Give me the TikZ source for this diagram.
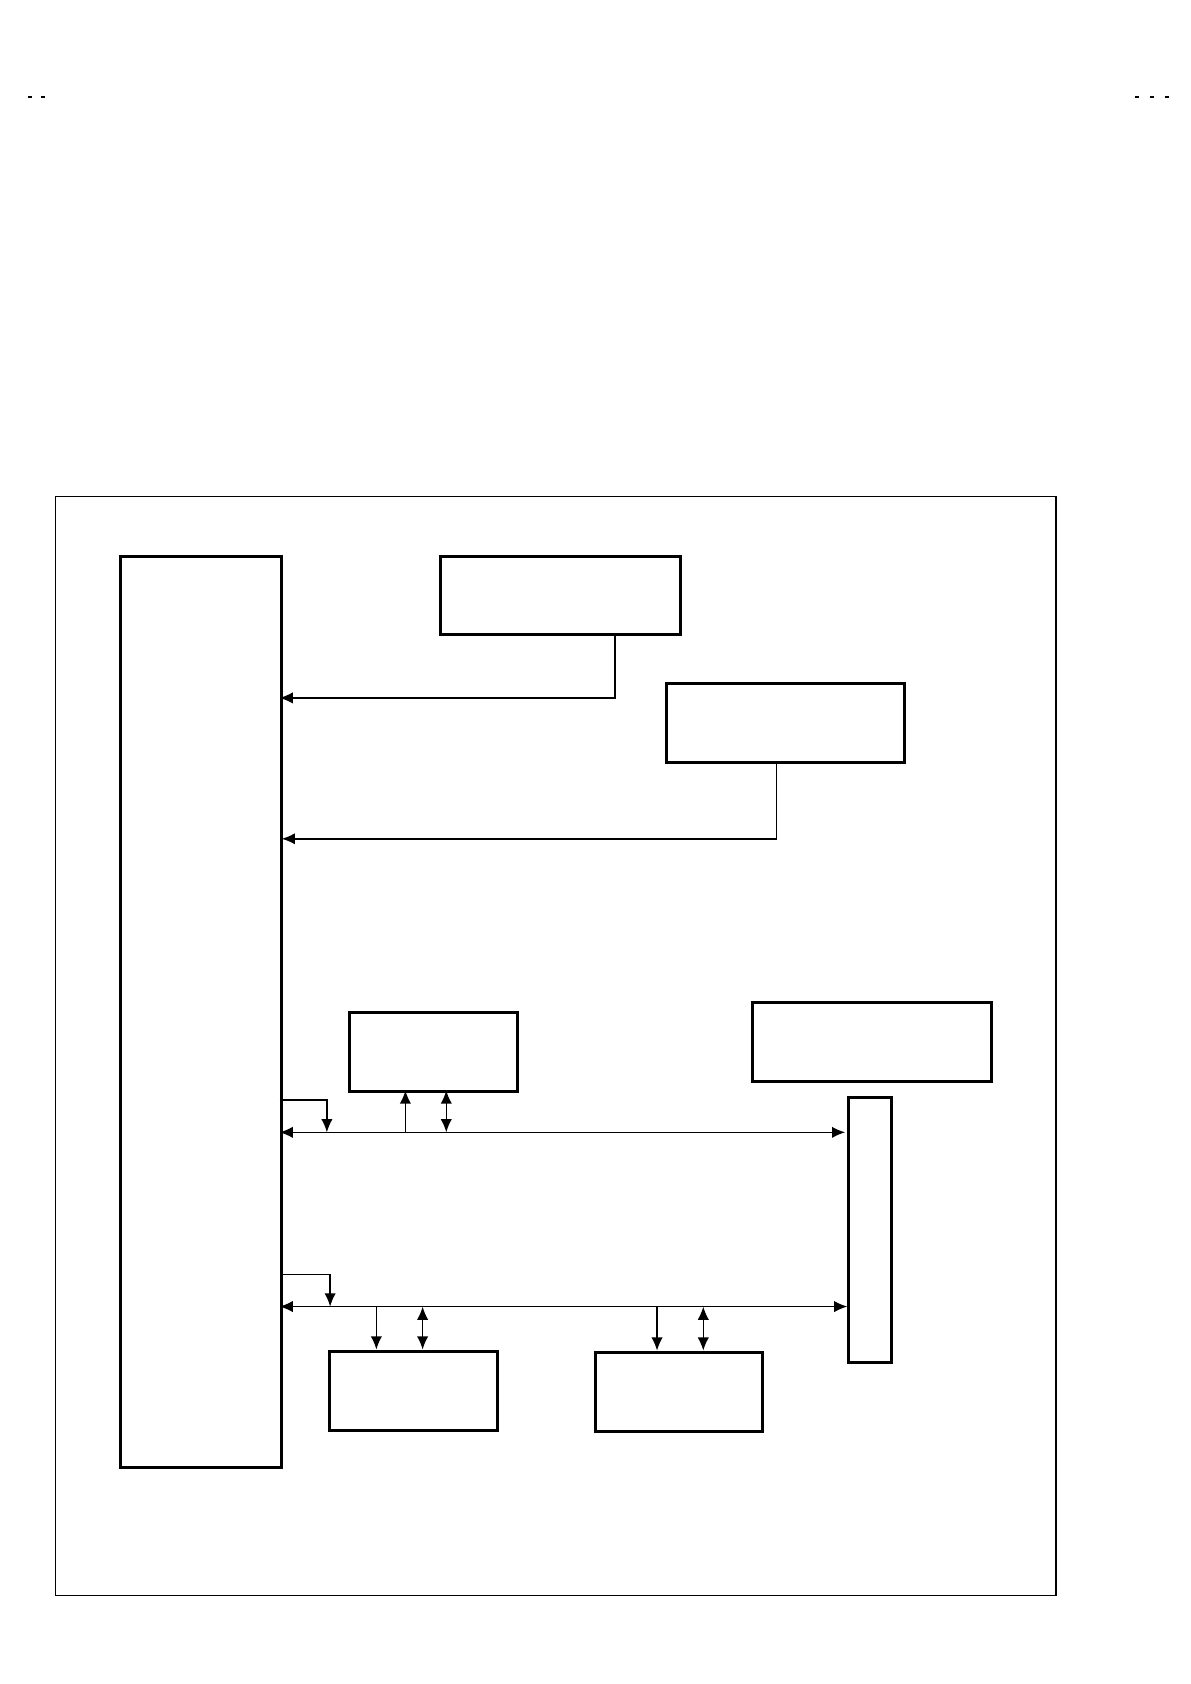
\documentclass[tikz,border=0pt]{standalone}
\usetikzlibrary{arrows.meta}
\begin{document}
\begin{tikzpicture}[x=0.02cm,y=-0.02cm,
  blk/.style={draw,line width=1.6pt},
  ln/.style={line width=0.8pt},
  ar/.style={ln,-{Latex[length=7pt,width=6pt]}},
  dar/.style={ln,{Latex[length=7pt,width=6pt]}-{Latex[length=7pt,width=6pt]}}]
\useasboundingbox (0,0) rectangle (1107,1566);
\draw[line width=0.6pt] (52,462) rectangle (982,1484);
\draw[line width=0.8pt] (26,90)--(30,90) (38,90)--(42,90) (1055,90)--(1059,90) (1069,90)--(1073,90) (1083,90)--(1087,90);
\node[blk,minimum width=149*0.02cm,minimum height=847*0.02cm,anchor=north west] (L) at (111,516) {};
\node[blk,minimum width=223*0.02cm,minimum height=73*0.02cm,anchor=north west] (A) at (408,516) {};
\node[blk,minimum width=222*0.02cm,minimum height=74*0.02cm,anchor=north west] (B) at (618,634) {};
\node[blk,minimum width=156*0.02cm,minimum height=74*0.02cm,anchor=north west] (C) at (324,940) {};
\node[blk,minimum width=223*0.02cm,minimum height=73*0.02cm,anchor=north west] (D) at (698,931) {};
\node[blk,minimum width=40*0.02cm,minimum height=247*0.02cm,anchor=north west] (E) at (788,1019) {};
\node[blk,minimum width=156*0.02cm,minimum height=74*0.02cm,anchor=north west] (F) at (305,1255) {};
\node[blk,minimum width=156*0.02cm,minimum height=74*0.02cm,anchor=north west] (G) at (552,1256) {};
\coordinate (a1) at (572,649); \coordinate (b1) at (722,780);
\coordinate (b1e) at (262,780); \coordinate (a1e) at (260,649);
\draw[ar] (572,589) -- (a1) -- (a1e);
\draw[ar] (722,708) -- (b1) -- (b1e);
\coordinate (bus1l) at (260,1053); \coordinate (bus1r) at (786,1053);
\draw[dar] (bus1l) -- (bus1r);
\draw[ar] (260,1023) -- (304,1023) -- (304,1053);
\draw[ar] (377,1053) -- (377,1014);
\draw[dar] (415,1014) -- (415,1053);
\coordinate (bus2l) at (260,1215); \coordinate (bus2r) at (788,1215);
\draw[dar] (bus2l) -- (bus2r);
\draw[ar] (260,1185) -- (307,1185) -- (307,1215);
\draw[ar] (350,1215) -- (350,1255);
\draw[dar] (393,1215) -- (393,1255);
\draw[ar] (611,1215) -- (611,1256);
\draw[dar] (654,1215) -- (654,1256);
\end{tikzpicture}
\end{document}
